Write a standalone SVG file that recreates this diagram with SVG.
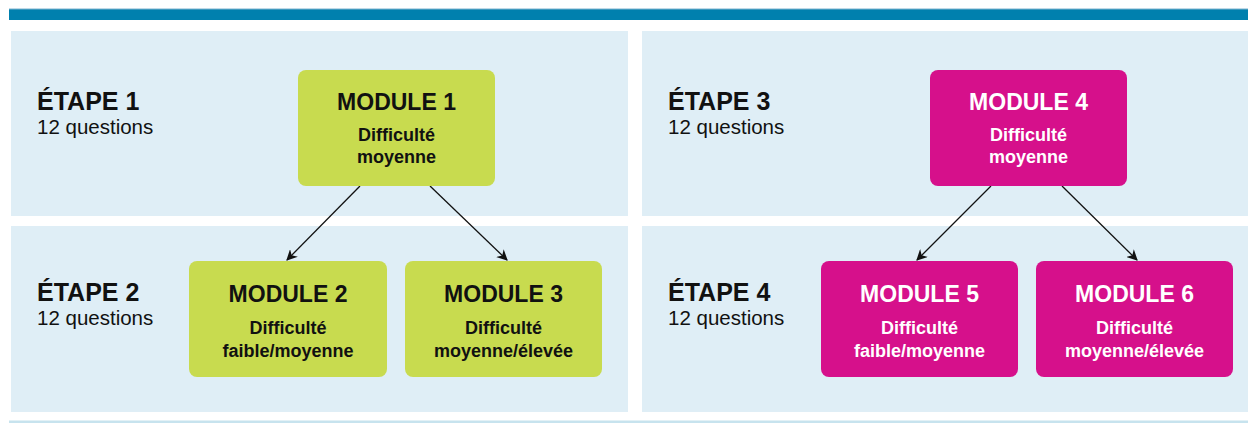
<svg xmlns="http://www.w3.org/2000/svg" width="1248" height="423" viewBox="0 0 1248 423">
<style>
.panel{fill:#DFEEF6}
.g{fill:#C8DB4F}
.m{fill:#D6108B}
.etape{font-family:"Liberation Sans",Arial,sans-serif;font-weight:bold;font-size:25px;fill:#111}
.q{font-family:"Liberation Sans",Arial,sans-serif;font-size:20.5px;fill:#111}
.title{font-family:"Liberation Sans",Arial,sans-serif;font-weight:bold;font-size:23px;text-anchor:middle}
.sub{font-family:"Liberation Sans",Arial,sans-serif;font-weight:bold;font-size:18px;text-anchor:middle}
.dk{fill:#111}
.wh{fill:#FFFFFF}
.conn{stroke:#111;stroke-width:1.3;fill:none;marker-end:url(#ah)}
</style>
<defs>
<marker id="ah" viewBox="0 0 10 10" refX="9" refY="5" markerWidth="11" markerHeight="11" markerUnits="userSpaceOnUse" orient="auto">
<path d="M0,0 L10,5 L0,10 L3,5 z" fill="#111"/>
</marker>
</defs>
<rect width="1248" height="423" fill="#FFFFFF"/>
<rect x="9" y="9" width="1239" height="11" fill="#0080AE"/>
<rect x="9" y="8.5" width="1239" height="1" fill="#7FB3CF"/>
<rect x="9" y="420.5" width="1239" height="2.5" fill="#C7E3EE"/>
<g id="panels">
<rect class="panel" x="11" y="31" width="617" height="185"/>
<rect class="panel" x="11" y="226" width="617" height="186"/>
<rect class="panel" x="642" y="31" width="606" height="185"/>
<rect class="panel" x="642" y="226" width="606" height="186"/>
</g>
<g id="labels">
<text class="etape" x="37" y="110">ÉTAPE 1</text>
<text class="q" x="37" y="134">12 questions</text>
<text class="etape" x="37" y="301">ÉTAPE 2</text>
<text class="q" x="37" y="325">12 questions</text>
<text class="etape" x="668" y="110">ÉTAPE 3</text>
<text class="q" x="668" y="134">12 questions</text>
<text class="etape" x="668" y="301">ÉTAPE 4</text>
<text class="q" x="668" y="325">12 questions</text>
</g>
<g id="connectors">
<line class="conn" x1="360" y1="186" x2="287" y2="260"/>
<line class="conn" x1="430" y1="186" x2="507" y2="260"/>
<line class="conn" x1="991" y1="186" x2="917" y2="260"/>
<line class="conn" x1="1062" y1="186" x2="1137" y2="260"/>
</g>
<g id="module1">
<rect class="g" x="298" y="70" width="197" height="116" rx="8"/>
<text class="title dk" x="396.5" y="110">MODULE 1</text>
<text class="sub dk" x="396.5" y="141">Difficulté</text>
<text class="sub dk" x="396.5" y="163">moyenne</text>
</g>
<g id="module2">
<rect class="g" x="189" y="261" width="198" height="116" rx="8"/>
<text class="title dk" x="288" y="302">MODULE 2</text>
<text class="sub dk" x="288" y="334">Difficulté</text>
<text class="sub dk" x="288" y="357">faible/moyenne</text>
</g>
<g id="module3">
<rect class="g" x="405" y="261" width="197" height="116" rx="8"/>
<text class="title dk" x="503.5" y="302">MODULE 3</text>
<text class="sub dk" x="503.5" y="334">Difficulté</text>
<text class="sub dk" x="503.5" y="357">moyenne/élevée</text>
</g>
<g id="module4">
<rect class="m" x="930" y="70" width="197" height="116" rx="8"/>
<text class="title wh" x="1028.5" y="110">MODULE 4</text>
<text class="sub wh" x="1028.5" y="141">Difficulté</text>
<text class="sub wh" x="1028.5" y="163">moyenne</text>
</g>
<g id="module5">
<rect class="m" x="821" y="261" width="197" height="116" rx="8"/>
<text class="title wh" x="919.5" y="302">MODULE 5</text>
<text class="sub wh" x="919.5" y="334">Difficulté</text>
<text class="sub wh" x="919.5" y="357">faible/moyenne</text>
</g>
<g id="module6">
<rect class="m" x="1036" y="261" width="197" height="116" rx="8"/>
<text class="title wh" x="1134.5" y="302">MODULE 6</text>
<text class="sub wh" x="1134.5" y="334">Difficulté</text>
<text class="sub wh" x="1134.5" y="357">moyenne/élevée</text>
</g>
</svg>
